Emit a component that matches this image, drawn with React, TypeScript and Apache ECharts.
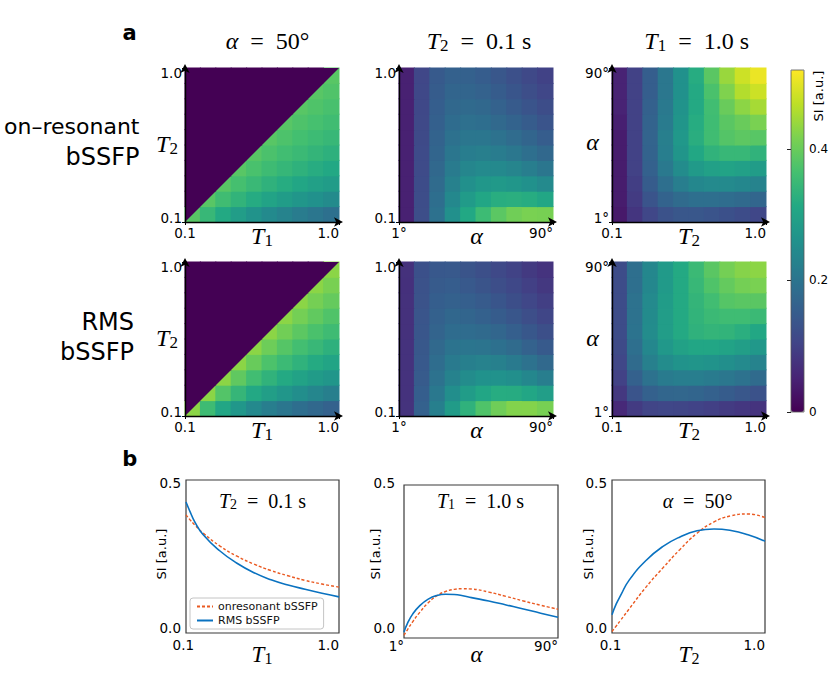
import React, { useEffect, useRef } from 'react';
import * as echarts from 'echarts';

// ---------------- data ----------------
const cellIndex = ['0', '1', '2', '3', '4', '5', '6', '7', '8', '9'];

// Heatmap cell values, rows listed bottom -> top, cells left -> right
const onresT1T2 = [
  [0.383, 0.345, 0.314, 0.287, 0.265, 0.246, 0.230, 0.216, 0.203, 0.192],
  [0, 0.383, 0.358, 0.337, 0.318, 0.301, 0.285, 0.272, 0.259, 0.248],
  [0, 0, 0.383, 0.365, 0.348, 0.333, 0.320, 0.307, 0.295, 0.285],
  [0, 0, 0, 0.383, 0.369, 0.355, 0.343, 0.332, 0.321, 0.311],
  [0, 0, 0, 0, 0.383, 0.371, 0.360, 0.350, 0.340, 0.330],
  [0, 0, 0, 0, 0, 0.383, 0.373, 0.363, 0.354, 0.346],
  [0, 0, 0, 0, 0, 0, 0.383, 0.374, 0.366, 0.358],
  [0, 0, 0, 0, 0, 0, 0, 0.383, 0.375, 0.368],
  [0, 0, 0, 0, 0, 0, 0, 0, 0.383, 0.376],
  [0, 0, 0, 0, 0, 0, 0, 0, 0, 0.383],
];
const onresAlphaT1 = [
  [0.048, 0.123, 0.194, 0.257, 0.311, 0.354, 0.386, 0.406, 0.415, 0.413],
  [0.047, 0.121, 0.187, 0.241, 0.282, 0.308, 0.323, 0.326, 0.320, 0.307],
  [0.047, 0.120, 0.181, 0.227, 0.257, 0.273, 0.277, 0.272, 0.261, 0.245],
  [0.047, 0.118, 0.175, 0.214, 0.237, 0.245, 0.243, 0.234, 0.220, 0.203],
  [0.047, 0.117, 0.169, 0.203, 0.219, 0.222, 0.216, 0.205, 0.190, 0.174],
  [0.047, 0.115, 0.164, 0.193, 0.204, 0.203, 0.195, 0.182, 0.168, 0.152],
  [0.047, 0.114, 0.159, 0.184, 0.191, 0.187, 0.177, 0.164, 0.150, 0.135],
  [0.047, 0.112, 0.155, 0.175, 0.179, 0.174, 0.163, 0.149, 0.135, 0.121],
  [0.047, 0.111, 0.151, 0.168, 0.169, 0.162, 0.150, 0.137, 0.123, 0.110],
  [0.047, 0.109, 0.146, 0.161, 0.160, 0.152, 0.140, 0.127, 0.113, 0.101],
];
const onresT2Alpha = [
  [0.035, 0.08, 0.11, 0.13, 0.14, 0.14, 0.135, 0.128, 0.12, 0.11],
  [0.04, 0.09, 0.135, 0.165, 0.18, 0.19, 0.19, 0.185, 0.178, 0.17],
  [0.04, 0.095, 0.15, 0.19, 0.22, 0.24, 0.245, 0.245, 0.24, 0.23],
  [0.04, 0.10, 0.16, 0.21, 0.25, 0.28, 0.295, 0.30, 0.295, 0.285],
  [0.04, 0.10, 0.165, 0.22, 0.27, 0.31, 0.335, 0.345, 0.345, 0.335],
  [0.04, 0.10, 0.166, 0.222, 0.276, 0.324, 0.358, 0.379, 0.388, 0.383],
  [0.045, 0.10, 0.165, 0.215, 0.27, 0.32, 0.357, 0.385, 0.40, 0.415],
  [0.05, 0.10, 0.16, 0.21, 0.265, 0.315, 0.36, 0.40, 0.43, 0.45],
  [0.05, 0.10, 0.155, 0.205, 0.26, 0.315, 0.37, 0.42, 0.46, 0.48],
  [0.05, 0.10, 0.155, 0.205, 0.26, 0.32, 0.385, 0.44, 0.48, 0.505],
];
const rmsT1T2 = [
  [0.429, 0.355, 0.308, 0.273, 0.244, 0.221, 0.204, 0.188, 0.174, 0.162],
  [0, 0.429, 0.378, 0.342, 0.313, 0.290, 0.271, 0.253, 0.237, 0.223],
  [0, 0, 0.429, 0.391, 0.360, 0.335, 0.315, 0.298, 0.283, 0.271],
  [0, 0, 0, 0.429, 0.399, 0.372, 0.352, 0.334, 0.316, 0.303],
  [0, 0, 0, 0, 0.429, 0.403, 0.380, 0.362, 0.347, 0.330],
  [0, 0, 0, 0, 0, 0.429, 0.407, 0.387, 0.370, 0.356],
  [0, 0, 0, 0, 0, 0, 0.429, 0.410, 0.392, 0.376],
  [0, 0, 0, 0, 0, 0, 0, 0.429, 0.411, 0.396],
  [0, 0, 0, 0, 0, 0, 0, 0, 0.429, 0.414],
  [0, 0, 0, 0, 0, 0, 0, 0, 0, 0.429],
];
const rmsAlphaT1 = [
  [0.076, 0.160, 0.223, 0.283, 0.333, 0.375, 0.405, 0.422, 0.423, 0.413],
  [0.075, 0.154, 0.208, 0.253, 0.285, 0.308, 0.320, 0.319, 0.307, 0.289],
  [0.075, 0.149, 0.195, 0.229, 0.249, 0.262, 0.263, 0.256, 0.240, 0.221],
  [0.074, 0.145, 0.186, 0.212, 0.223, 0.228, 0.224, 0.213, 0.196, 0.177],
  [0.074, 0.142, 0.176, 0.197, 0.201, 0.200, 0.192, 0.180, 0.163, 0.146],
  [0.073, 0.138, 0.167, 0.183, 0.184, 0.179, 0.170, 0.157, 0.141, 0.125],
  [0.073, 0.136, 0.161, 0.173, 0.168, 0.161, 0.150, 0.138, 0.123, 0.108],
  [0.073, 0.132, 0.155, 0.161, 0.156, 0.148, 0.137, 0.124, 0.109, 0.096],
  [0.072, 0.131, 0.149, 0.153, 0.144, 0.134, 0.123, 0.111, 0.097, 0.085],
  [0.073, 0.128, 0.143, 0.145, 0.134, 0.125, 0.113, 0.102, 0.088, 0.077],
];
const rmsT2Alpha = [
  [0.06, 0.09, 0.105, 0.11, 0.108, 0.103, 0.097, 0.09, 0.083, 0.077],
  [0.085, 0.135, 0.16, 0.17, 0.172, 0.168, 0.16, 0.15, 0.14, 0.13],
  [0.10, 0.16, 0.195, 0.215, 0.22, 0.22, 0.215, 0.205, 0.195, 0.18],
  [0.11, 0.18, 0.225, 0.25, 0.265, 0.27, 0.265, 0.255, 0.245, 0.23],
  [0.115, 0.19, 0.24, 0.275, 0.297, 0.308, 0.308, 0.30, 0.29, 0.275],
  [0.12, 0.197, 0.25, 0.288, 0.315, 0.333, 0.34, 0.337, 0.326, 0.31],
  [0.12, 0.195, 0.248, 0.287, 0.315, 0.337, 0.35, 0.357, 0.357, 0.35],
  [0.12, 0.195, 0.245, 0.285, 0.315, 0.34, 0.36, 0.38, 0.385, 0.385],
  [0.12, 0.19, 0.24, 0.28, 0.315, 0.345, 0.375, 0.395, 0.41, 0.415],
  [0.12, 0.19, 0.24, 0.28, 0.315, 0.35, 0.385, 0.41, 0.425, 0.43],
];
// boundary T2 = T1 (region T2 > T1 is not physical)
const diagonalT1T2 = [[0.1, 0.1], [1.0, 1.0]];

// Line plots (panel b)
const lineT1 = [0.1, 0.125, 0.15, 0.2, 0.3, 0.4, 0.5, 0.6, 0.7, 0.8, 0.9, 1.0];
const lineT1Onres = [0.386, 0.369, 0.354, 0.327, 0.284, 0.251, 0.225, 0.204, 0.187, 0.172, 0.160, 0.150];
const lineT1Rms = [0.428, 0.395, 0.365, 0.322, 0.268, 0.228, 0.197, 0.174, 0.157, 0.143, 0.130, 0.118];
const lineAlpha = [1, 3, 6, 10, 15, 20, 25, 30, 35, 40, 50, 60, 70, 80, 90];
const lineAlphaOnres = [0.009, 0.027, 0.053, 0.083, 0.115, 0.138, 0.152, 0.159, 0.161, 0.160, 0.150, 0.136, 0.121, 0.107, 0.094];
const lineAlphaRms = [0.02, 0.048, 0.078, 0.105, 0.127, 0.139, 0.143, 0.142, 0.138, 0.132, 0.121, 0.108, 0.095, 0.081, 0.068];
const lineT2 = [0.1, 0.125, 0.15, 0.2, 0.3, 0.4, 0.5, 0.6, 0.7, 0.8, 0.9, 1.0];
const lineT2Onres = [0.005, 0.023, 0.041, 0.078, 0.150, 0.213, 0.273, 0.326, 0.363, 0.383, 0.389, 0.377];
const lineT2Rms = [0.06, 0.095, 0.122, 0.172, 0.237, 0.283, 0.314, 0.334, 0.340, 0.335, 0.321, 0.300];

const colorbarTicks = [0, 0.2, 0.4];
const T_RANGE = [0.1, 1.0];
const ALPHA_RANGE = [1, 90];
const SI_RANGE = [0, 0.5];
const COLOR_RANGE = [0, 0.52];

// ---------------- styles / layout ----------------
const VIRIDIS = ['#440154', '#482475', '#414487', '#355f8d', '#2a788e', '#21918c', '#22a884', '#44bf70', '#7ad151', '#bddf26', '#fde725'];
const SERIF = 'Liberation Serif';
const SANS = 'DejaVu Sans';
const ORANGE = '#ea5a22';
const BLUE = '#0a72c0';
const TICK_FS = 13.5;
const EQ = '\u2002=\u2002';

const HM_LEFT = [185, 399, 612];
const HM_TOP = [68, 262];
const HM_SIZE = 154;
const CB = { left: 791, top: 70, width: 13, height: 342 };

const CW: Record<string, number> = { '.': 0.318, '°': 0.5 };
const textW = (t: string, size: number) => {
  let w = 0;
  for (const ch of t) w += CW[ch] ?? 0.636;
  return w * size;
};
const fmt = (v: number, deg: boolean) => (deg ? `${Math.round(v)}°` : v.toFixed(1));
const tickStyle = (pad: number[] = [0, 0, 0, 0], fs = TICK_FS) => ({
  fontSize: fs, fontFamily: SANS, color: '#000', padding: pad,
});

const mathRich = (f: number) => ({
  i: { fontFamily: SERIF, fontStyle: 'italic', fontSize: f, lineHeight: Math.round(f * 1.1), fill: '#000' },
  r: { fontFamily: SERIF, fontSize: f, lineHeight: Math.round(f * 1.1), fill: '#000' },
  s: { fontFamily: SERIF, fontSize: Math.round(f * 0.7), lineHeight: Math.round(f * 0.5), verticalAlign: 'bottom', fill: '#000' },
});
const mathText = (parts: string[][], x: number, baseline: number, f: number) => ({
  type: 'text', x, y: baseline - 0.34 * f, silent: true, z: 50,
  style: {
    text: parts.map(([k, t]) => `{${k}|${t}}`).join(''),
    rich: mathRich(f), align: 'center', verticalAlign: 'middle',
  },
});
const plainText = (text: string, x: number, y: number, fs: number, align = 'center', extra: any = {}) => ({
  type: 'text', x, y, silent: true, z: 50, ...extra,
  style: { text, fontSize: fs, fontFamily: SANS, fill: '#000', align, verticalAlign: 'middle', ...(extra.style || {}) },
});

const panels = [
  { data: onresT1T2, xr: T_RANGE, yr: T_RANGE, xDeg: false, yDeg: false, tri: true },
  { data: onresAlphaT1, xr: ALPHA_RANGE, yr: T_RANGE, xDeg: true, yDeg: false, tri: false },
  { data: onresT2Alpha, xr: T_RANGE, yr: ALPHA_RANGE, xDeg: false, yDeg: true, tri: false },
  { data: rmsT1T2, xr: T_RANGE, yr: T_RANGE, xDeg: false, yDeg: false, tri: true },
  { data: rmsAlphaT1, xr: ALPHA_RANGE, yr: T_RANGE, xDeg: true, yDeg: false, tri: false },
  { data: rmsT2Alpha, xr: T_RANGE, yr: ALPHA_RANGE, xDeg: false, yDeg: true, tri: false },
];

const lineCharts = [
  { left: 186, top: 480, w: 153, h: 153, xs: lineT1, on: lineT1Onres, rms: lineT1Rms, xr: T_RANGE, deg: false,
    minPad: [0, 5.4, 0, 0], minRight: false, xMargin: 5, yMargin: 5, yTopPad: [5, 0, 0, 0], yBotPad: [0, 0, 10, 0] },
  { left: 404, top: 485, w: 154, h: 153, xs: lineAlpha, on: lineAlphaOnres, rms: lineAlphaRms, xr: ALPHA_RANGE, deg: true,
    minPad: null, minRight: true, xMargin: 1, yMargin: 9, yTopPad: [0, 0, 5, 0], yBotPad: [0, 0, 20, 0] },
  { left: 612, top: 480, w: 153, h: 153, xs: lineT2, on: lineT2Onres, rms: lineT2Rms, xr: T_RANGE, deg: false,
    minPad: [0, 3, 0, 0], minRight: false, xMargin: 5, yMargin: 5, yTopPad: [5, 0, 0, 0], yBotPad: [0, 0, 10, 0] },
];

const toCells = (rows: number[][]) => {
  const out: number[][] = [];
  rows.forEach((row, j) => row.forEach((v, i) => out.push([i, j, v])));
  return out;
};

const renderCell = (_params: any, api: any) => {
  const c = api.coord([api.value(0), api.value(1)]);
  const s = api.size([1, 1]);
  return {
    type: 'rect',
    shape: { x: c[0] - s[0] / 2 - 0.5, y: c[1] - s[1] / 2 - 0.5, width: s[0] + 1, height: s[1] + 1 },
    style: { fill: api.visual('color'), stroke: null },
  };
};

function buildOption() {
  const grid: any[] = [];
  const xAxis: any[] = [];
  const yAxis: any[] = [];
  const series: any[] = [];
  const overlays: any[] = [];

  const arrowLine = {
    show: true, onZero: false, lineStyle: { color: '#000', width: 1.4 },
    symbol: ['none', 'arrow'], symbolSize: [7, 9], symbolOffset: [0, 4],
  };

  panels.forEach((p, k) => {
    const row = Math.floor(k / 3);
    const col = k % 3;
    const rect = { left: HM_LEFT[col], top: HM_TOP[row], width: HM_SIZE, height: HM_SIZE, outerBoundsMode: 'none', containLabel: false };
    grid.push({ ...rect });
    grid.push({ ...rect });
    const gCat = 2 * k;
    const gVal = 2 * k + 1;
    xAxis.push({ type: 'category', gridIndex: gCat, data: cellIndex, show: false });
    yAxis.push({ type: 'category', gridIndex: gCat, data: cellIndex, show: false });

    const xlo = fmt(p.xr[0], p.xDeg);
    const xhi = fmt(p.xr[1], p.xDeg);
    xAxis.push({
      type: 'value', gridIndex: gVal, min: p.xr[0], max: p.xr[1], position: 'bottom', z: 10,
      axisLine: arrowLine, splitLine: { show: false },
      axisTick: { show: true, customValues: p.xr, length: 3, lineStyle: { color: '#000', width: 1 } },
      axisLabel: {
        customValues: p.xr, margin: 4, showMinLabel: true, showMaxLabel: true,
        formatter: (v: number) => (Math.abs(v - p.xr[1]) < 1e-9 ? `{e|${xhi}}` : `{c|${xlo}}`),
        rich: { c: tickStyle(), e: tickStyle([0, textW(xhi, TICK_FS), 0, 0]) },
      },
    });
    const ylo = fmt(p.yr[0], p.yDeg);
    const yhi = fmt(p.yr[1], p.yDeg);
    yAxis.push({
      type: 'value', gridIndex: gVal, min: p.yr[0], max: p.yr[1], position: 'left', z: 10,
      axisLine: arrowLine, splitLine: { show: false },
      axisTick: { show: true, customValues: p.yr, length: 3, lineStyle: { color: '#000', width: 1 } },
      axisLabel: {
        customValues: p.yr, margin: 3, showMinLabel: true, showMaxLabel: true,
        formatter: (v: number) => (Math.abs(v - p.yr[1]) < 1e-9 ? `{t|${yhi}}` : `{b|${ylo}}`),
        rich: { t: tickStyle([10, 0, 0, 0]), b: tickStyle([0, 0, 8, 0]) },
      },
    });
    series.push({
      type: 'custom', name: `map${k}`, xAxisIndex: gCat, yAxisIndex: gCat,
      data: toCells(p.data), silent: true, z: 1, renderItem: renderCell,
      encode: { x: 0, y: 1 }, dimensions: ['x', 'y', 'value'],
    });
    if (p.tri) {
      overlays.push({
        type: 'line', name: `upper${k}`, xAxisIndex: gVal, yAxisIndex: gVal, data: diagonalT1T2,
        symbol: 'none', silent: true, z: 3, lineStyle: { width: 0, color: VIRIDIS[0] },
        areaStyle: { color: VIRIDIS[0], opacity: 1, origin: 'end' },
      });
    }
  });
  series.push(...overlays);

  // line charts
  lineCharts.forEach((c) => {
    const g = grid.length;
    grid.push({
      left: c.left, top: c.top, width: c.w, height: c.h, show: true, borderColor: '#3a3a3a', borderWidth: 1.2,
      backgroundColor: 'transparent', outerBoundsMode: 'none', containLabel: false,
    });
    const lo = fmt(c.xr[0], c.deg);
    const hi = fmt(c.xr[1], c.deg);
    const minPad = c.minRight ? [0, textW(lo, TICK_FS), 0, 0] : c.minPad;
    xAxis.push({
      type: 'value', gridIndex: g, min: c.xr[0], max: c.xr[1], position: 'bottom',
      axisLine: { show: false }, axisTick: { show: false }, splitLine: { show: false },
      axisLabel: {
        customValues: c.xr, margin: c.xMargin, showMinLabel: true, showMaxLabel: true,
        formatter: (v: number) => (Math.abs(v - c.xr[1]) < 1e-9 ? `{e|${hi}}` : `{s|${lo}}`),
        rich: { s: tickStyle(minPad as number[]), e: tickStyle([0, textW(hi, TICK_FS), 0, 0]) },
      },
    });
    yAxis.push({
      type: 'value', gridIndex: g, min: SI_RANGE[0], max: SI_RANGE[1], interval: 0.5, position: 'left',
      axisLine: { show: false }, axisTick: { show: false }, splitLine: { show: false },
      axisLabel: {
        margin: c.yMargin, showMinLabel: true, showMaxLabel: true,
        formatter: (v: number) => (v > 0.25 ? `{t|${v.toFixed(1)}}` : `{b|${v.toFixed(1)}}`),
        rich: { t: tickStyle(c.yTopPad), b: tickStyle(c.yBotPad) },
      },
    });
    series.push({
      type: 'line', name: 'onresonant bSSFP', xAxisIndex: g, yAxisIndex: g,
      data: c.xs.map((x, i) => [x, c.on[i]]), symbol: 'none', smooth: true, silent: true, z: 3,
      lineStyle: { color: ORANGE, width: 1.4, type: [3, 2] }, itemStyle: { color: ORANGE },
    });
    series.push({
      type: 'line', name: 'RMS bSSFP', xAxisIndex: g, yAxisIndex: g,
      data: c.xs.map((x, i) => [x, c.rms[i]]), symbol: 'none', smooth: true, silent: true, z: 4,
      lineStyle: { color: BLUE, width: 1.6 }, itemStyle: { color: BLUE },
    });
  });

  // colorbar tick axis
  const gcb = grid.length;
  grid.push({ ...CB, outerBoundsMode: 'none', containLabel: false });
  xAxis.push({ type: 'value', gridIndex: gcb, show: false, min: 0, max: 1 });
  yAxis.push({
    type: 'value', gridIndex: gcb, min: COLOR_RANGE[0], max: COLOR_RANGE[1], position: 'right', z: 10,
    axisLine: { show: false }, splitLine: { show: false },
    axisTick: { show: true, inside: true, length: 4, customValues: colorbarTicks, lineStyle: { color: '#222', width: 1 } },
    axisLabel: {
      customValues: colorbarTicks, margin: 5, fontSize: 12, fontFamily: SANS, color: '#000',
      formatter: (v: number) => (v === 0 ? '0' : v.toFixed(1)),
    },
  });

  const graphic: any[] = [];
  graphic.push(plainText('a', 129.5, 32.5, 21, 'center', { style: { fontWeight: 'bold' } }));
  graphic.push(plainText('b', 129.7, 458.5, 21, 'center', { style: { fontWeight: 'bold' } }));
  graphic.push(plainText('on–resonant', 139.5, 126.7, 22, 'right'));
  graphic.push(plainText('bSSFP', 139.5, 156.7, 24, 'right'));
  graphic.push(plainText('RMS', 134, 321.7, 24, 'right'));
  graphic.push(plainText('bSSFP', 134, 351.7, 24, 'right'));
  graphic.push(mathText([['i', 'α'], ['r', `${EQ}50°`]], 267.5, 49.3, 24));
  graphic.push(mathText([['i', 'T'], ['s', '2'], ['r', `${EQ}0.1 s`]], 479, 49.3, 24));
  graphic.push(mathText([['i', 'T'], ['s', '1'], ['r', `${EQ}1.0 s`]], 696.7, 49.3, 24));
  [244, 438].forEach((b) => {
    graphic.push(mathText([['i', 'T'], ['s', '1']], 262, b, 24));
    graphic.push(mathText([['i', 'α']], 476.5, b, 24));
    graphic.push(mathText([['i', 'T'], ['s', '2']], 689, b, 24));
  });
  graphic.push(mathText([['i', 'T'], ['s', '2']], 167, 152.5, 24));
  graphic.push(mathText([['i', 'T'], ['s', '2']], 167, 346, 24));
  graphic.push(mathText([['i', 'α']], 592.5, 150, 24));
  graphic.push(mathText([['i', 'α']], 592.5, 346, 24));
  graphic.push(mathText([['i', 'T'], ['s', '2'], ['r', `${EQ}0.1 s`]], 262.5, 507.7, 20));
  graphic.push(mathText([['i', 'T'], ['s', '1'], ['r', `${EQ}1.0 s`]], 480.5, 507.7, 20));
  graphic.push(mathText([['i', 'α'], ['r', `${EQ}50°`]], 697.5, 507.7, 20));
  graphic.push(mathText([['i', 'T'], ['s', '1']], 262, 662, 23));
  graphic.push(mathText([['i', 'α']], 476.5, 662.7, 23));
  graphic.push(mathText([['i', 'T'], ['s', '2']], 689, 662, 23));
  [161.7, 375, 588.5].forEach((x) => {
    graphic.push(plainText('SI [a.u.]', x, 554, 13, 'center', { rotation: Math.PI / 2 }));
  });
  graphic.push(plainText('SI [a.u.]', 818, 96, 13, 'center', { rotation: Math.PI / 2 }));
  graphic.push({
    type: 'rect', silent: true, z: 60,
    shape: { x: CB.left, y: CB.top, width: CB.width, height: CB.height },
    style: { fill: 'none', stroke: '#555', lineWidth: 0.8 },
  });

  return {
    animation: false,
    backgroundColor: '#fff',
    textStyle: { fontFamily: SANS },
    grid, xAxis, yAxis, series, graphic,
    visualMap: {
      type: 'continuous', min: COLOR_RANGE[0], max: COLOR_RANGE[1], seriesIndex: [0, 1, 2, 3, 4, 5], dimension: 2,
      inRange: { color: VIRIDIS }, left: CB.left, top: CB.top, itemWidth: CB.width, itemHeight: CB.height,
      calculable: false, hoverLink: false, padding: 0, orient: 'vertical', text: null, showLabel: false,
    },
    legend: {
      data: ['onresonant bSSFP', 'RMS bSSFP'], left: 190, top: 598, orient: 'vertical',
      itemWidth: 16, itemHeight: 10, itemGap: 3, padding: [3, 6, 3, 6],
      borderColor: '#c4c4c4', borderWidth: 1, borderRadius: 3, backgroundColor: '#fff',
      itemStyle: { opacity: 0 },
      selectedMode: false, textStyle: { fontSize: 11, fontFamily: SANS, color: '#111' },
    },
  };
}

export default function App() {
  const ref = useRef<HTMLDivElement>(null);
  useEffect(() => {
    if (!ref.current) return;
    const chart = echarts.init(ref.current, undefined, { renderer: 'svg' });
    chart.setOption(buildOption() as any);
    return () => chart.dispose();
  }, []);
  return (
    <div
      ref={ref}
      style={{ position: 'fixed', left: 0, top: 0, width: 831, height: 692, background: '#fff' }}
    />
  );
}
